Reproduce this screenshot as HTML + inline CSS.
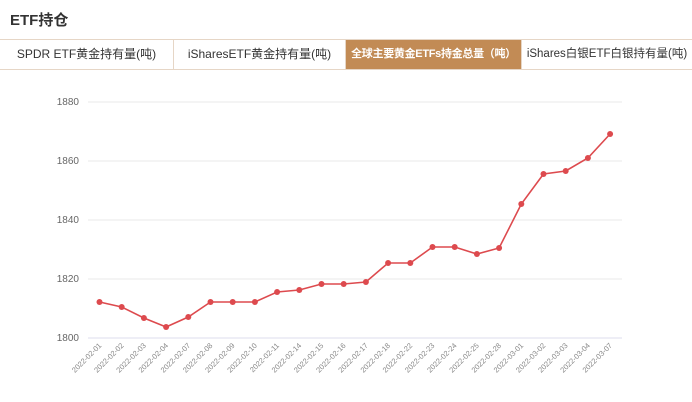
<!DOCTYPE html>
<html><head><meta charset="utf-8"><style>
body{margin:0;width:692px;height:402px;background:#fff;font-family:"Liberation Sans","Noto Sans CJK SC",sans-serif;overflow:hidden;position:relative}
.title{position:absolute;left:10px;top:9px;font-size:15px;font-weight:bold;color:#333}
.tabs{position:absolute;left:0;top:39px;width:692px;height:29px;border-top:1px solid #e6d6c6;border-bottom:1px solid #e6d6c6;display:flex}
.tab{height:29px;line-height:29px;text-align:center;font-size:12px;color:#333;border-right:1px solid #e6d6c6;box-sizing:border-box;white-space:nowrap;overflow:hidden}
.act{background:#c28b55;color:#fff;font-weight:bold;font-size:11px;letter-spacing:-0.3px}
svg{position:absolute;left:0;top:0}
</style></head><body>
<div class="title">ETF持仓</div>
<div class="tabs">
<div class="tab" style="width:174px">SPDR ETF黄金持有量(吨)</div>
<div class="tab" style="width:172px">iSharesETF黄金持有量(吨)</div>
<div class="tab act" style="width:176px">全球主要黄金ETFs持金总量（吨）</div>
<div class="tab" style="width:170px;border-right:none;font-size:11.5px">iShares白银ETF白银持有量(吨)</div>
</div>
<svg width="692" height="402" font-family="Liberation Sans, sans-serif">
<g stroke="#e8e8e8" stroke-width="1">
<line x1="88" y1="102" x2="622" y2="102"/><line x1="88" y1="161" x2="622" y2="161"/><line x1="88" y1="220" x2="622" y2="220"/><line x1="88" y1="279" x2="622" y2="279"/><line x1="88" y1="338" x2="622" y2="338" stroke="#dde"/>
</g>
<g font-size="10" fill="#666" text-anchor="end">
<text x="79" y="105">1880</text><text x="79" y="164">1860</text><text x="79" y="223">1840</text><text x="79" y="282">1820</text><text x="79" y="341">1800</text>
</g>
<polyline fill="none" stroke="#dd4a4e" stroke-width="1.6" points="99.5,302 121.7,307 143.9,318 166.1,327 188.3,317 210.5,302 232.7,302 254.9,302 277.1,292 299.3,290 321.5,284 343.7,284 365.9,282 388.1,263 410.3,263 432.5,247 454.7,247 476.9,254 499.1,248 521.3,204 543.5,174 565.7,171 587.9,158 610.1,134"/>
<g fill="#dd4a4e">
<circle cx="99.5" cy="302" r="3"/><circle cx="121.7" cy="307" r="3"/><circle cx="143.9" cy="318" r="3"/><circle cx="166.1" cy="327" r="3"/><circle cx="188.3" cy="317" r="3"/><circle cx="210.5" cy="302" r="3"/><circle cx="232.7" cy="302" r="3"/><circle cx="254.9" cy="302" r="3"/><circle cx="277.1" cy="292" r="3"/><circle cx="299.3" cy="290" r="3"/><circle cx="321.5" cy="284" r="3"/><circle cx="343.7" cy="284" r="3"/><circle cx="365.9" cy="282" r="3"/><circle cx="388.1" cy="263" r="3"/><circle cx="410.3" cy="263" r="3"/><circle cx="432.5" cy="247" r="3"/><circle cx="454.7" cy="247" r="3"/><circle cx="476.9" cy="254" r="3"/><circle cx="499.1" cy="248" r="3"/><circle cx="521.3" cy="204" r="3"/><circle cx="543.5" cy="174" r="3"/><circle cx="565.7" cy="171" r="3"/><circle cx="587.9" cy="158" r="3"/><circle cx="610.1" cy="134" r="3"/>
</g>
<g font-size="7.5" fill="#888" text-anchor="end">
<text transform="translate(102,346) rotate(-45)">2022-02-01</text>
<text transform="translate(124.2,346) rotate(-45)">2022-02-02</text>
<text transform="translate(146.4,346) rotate(-45)">2022-02-03</text>
<text transform="translate(168.6,346) rotate(-45)">2022-02-04</text>
<text transform="translate(190.8,346) rotate(-45)">2022-02-07</text>
<text transform="translate(213,346) rotate(-45)">2022-02-08</text>
<text transform="translate(235.2,346) rotate(-45)">2022-02-09</text>
<text transform="translate(257.4,346) rotate(-45)">2022-02-10</text>
<text transform="translate(279.6,346) rotate(-45)">2022-02-11</text>
<text transform="translate(301.8,346) rotate(-45)">2022-02-14</text>
<text transform="translate(324,346) rotate(-45)">2022-02-15</text>
<text transform="translate(346.2,346) rotate(-45)">2022-02-16</text>
<text transform="translate(368.4,346) rotate(-45)">2022-02-17</text>
<text transform="translate(390.6,346) rotate(-45)">2022-02-18</text>
<text transform="translate(412.8,346) rotate(-45)">2022-02-22</text>
<text transform="translate(435,346) rotate(-45)">2022-02-23</text>
<text transform="translate(457.2,346) rotate(-45)">2022-02-24</text>
<text transform="translate(479.4,346) rotate(-45)">2022-02-25</text>
<text transform="translate(501.6,346) rotate(-45)">2022-02-28</text>
<text transform="translate(523.8,346) rotate(-45)">2022-03-01</text>
<text transform="translate(546,346) rotate(-45)">2022-03-02</text>
<text transform="translate(568.2,346) rotate(-45)">2022-03-03</text>
<text transform="translate(590.4,346) rotate(-45)">2022-03-04</text>
<text transform="translate(612.6,346) rotate(-45)">2022-03-07</text>
</g>
</svg>
</body></html>
